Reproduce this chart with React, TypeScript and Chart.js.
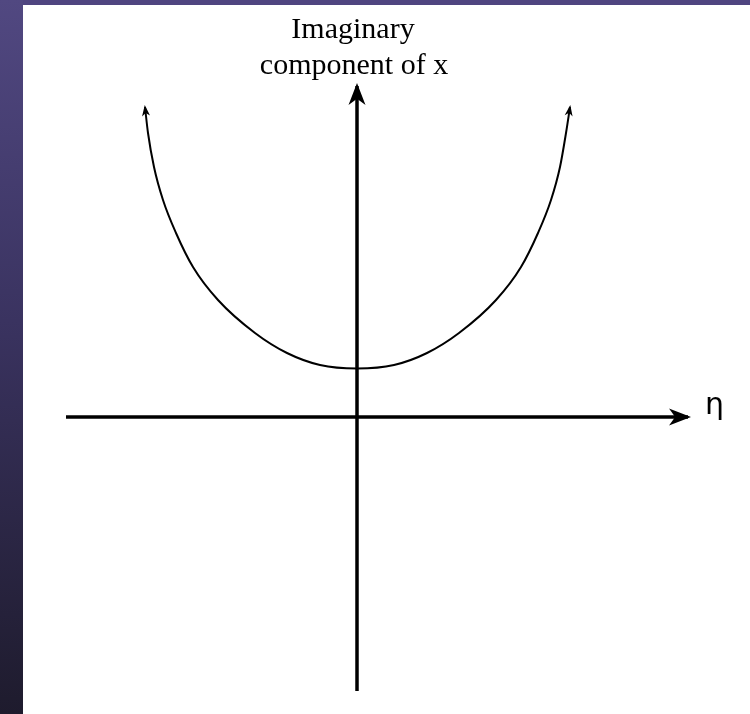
import React, { useEffect, useRef } from "react";
import { Chart, registerables } from "chart.js";

Chart.register(...registerables);

// Curve: imaginary component of x versus eta (units: 1 = 100 px in the reference)
const curveEta = [-2.12, -2.09, -2.03, -1.94, -1.81, -1.64, -1.39, -1.02, -0.7, -0.37, 0, 0.37, 0.7, 1.02, 1.39, 1.64, 1.81, 1.94, 2.03, 2.09, 2.13];
const curveImag = [3.1, 2.84, 2.5, 2.17, 1.84, 1.5, 1.17, 0.84, 0.64, 0.52, 0.485, 0.52, 0.64, 0.84, 1.17, 1.5, 1.84, 2.17, 2.5, 2.84, 3.1];

// Axes
const hAxisEta = [-2.91, 3.31];
const hAxisImag = [0, 0];
const vAxisEta = [0, 0];
const vAxisImag = [-2.74, 3.31];

// Window of the drawing
const etaRange = [-3.57, 3.93];
const imagRange = [-2.97, 4.17];

const titleLines = ["Imaginary", "component of x"];
const etaLabel = "η";

const pts = (xs: number[], ys: number[]) => xs.map((x, i) => ({ x, y: ys[i] }));

const arrowPlugin = {
  id: "arrows",
  afterDatasetsDraw(chart: any) {
    const ctx = chart.ctx;
    chart.data.datasets.forEach((ds: any, i: number) => {
      const a = ds.arrow;
      if (!a) return;
      const els = chart.getDatasetMeta(i).data;
      const n = els.length;
      const draw = (tip: any, from: any) => {
        let dx = tip.x - from.x;
        let dy = tip.y - from.y;
        const d = Math.hypot(dx, dy) || 1;
        dx /= d;
        dy /= d;
        const tx = tip.x + dx * a.extend;
        const ty = tip.y + dy * a.extend;
        const ang = Math.atan2(dy, dx);
        ctx.save();
        ctx.translate(tx, ty);
        ctx.rotate(ang);
        ctx.beginPath();
        ctx.moveTo(0, 0);
        ctx.lineTo(-a.length, -a.width / 2);
        ctx.lineTo(-a.length * 0.72, 0);
        ctx.lineTo(-a.length, a.width / 2);
        ctx.closePath();
        ctx.fillStyle = ds.borderColor;
        ctx.fill();
        ctx.restore();
      };
      const pick = (p: any, cx: any, cy: any, fallback: any) => {
        if (cx !== undefined && cy !== undefined && Math.hypot(p.x - cx, p.y - cy) > 0.5) return { x: cx, y: cy };
        return fallback;
      };
      if (a.end) {
        const p = els[n - 1];
        draw(p, pick(p, p.cp1x, p.cp1y, els[n - 2]));
      }
      if (a.start) {
        const p = els[0];
        draw(p, pick(p, p.cp2x, p.cp2y, els[1]));
      }
    });
  },
};

const labelPlugin = {
  id: "labels",
  afterDraw(chart: any) {
    const ctx = chart.ctx;
    const xs = chart.scales.x;
    const ys = chart.scales.y;
    const cx = xs.getPixelForValue(0);
    const tipY = ys.getPixelForValue(vAxisImag[1]);
    ctx.save();
    ctx.fillStyle = "#000";
    ctx.textAlign = "center";
    ctx.textBaseline = "alphabetic";
    ctx.font = '30px "Liberation Serif", "Times New Roman", serif';
    ctx.fillText(titleLines[0], cx - 4, tipY - 48);
    ctx.fillText(titleLines[1], cx - 3, tipY - 12);
    ctx.textAlign = "left";
    ctx.font = '30px "DejaVu Sans", sans-serif';
    ctx.fillText(etaLabel, xs.getPixelForValue(hAxisEta[1]) + 17, ys.getPixelForValue(0) - 3);
    ctx.restore();
  },
};

export default function App() {
  const ref = useRef<HTMLCanvasElement | null>(null);
  useEffect(() => {
    if (!ref.current) return;
    const chart = new Chart(ref.current, {
      type: "scatter",
      data: {
        datasets: [
          {
            data: pts(hAxisEta, hAxisImag),
            showLine: true,
            borderColor: "#000",
            borderWidth: 3.5,
            pointRadius: 0,
            tension: 0,
            arrow: { end: true, length: 22, width: 17, extend: 3 },
          } as any,
          {
            data: pts(vAxisEta, vAxisImag),
            showLine: true,
            borderColor: "#000",
            borderWidth: 3.5,
            pointRadius: 0,
            tension: 0,
            arrow: { end: true, length: 22, width: 17, extend: 3 },
          } as any,
          {
            data: pts(curveEta, curveImag),
            showLine: true,
            borderColor: "#000",
            borderWidth: 2,
            pointRadius: 0,
            tension: 0.4,
            cubicInterpolationMode: "monotone",
            arrow: { start: true, end: true, length: 11, width: 8, extend: 2 },
          } as any,
        ],
      },
      options: {
        animation: false,
        responsive: false,
        events: [],
        layout: { padding: 0 },
        plugins: { legend: { display: false }, tooltip: { enabled: false }, title: { display: false } },
        scales: {
          x: { type: "linear", display: false, min: etaRange[0], max: etaRange[1] },
          y: { type: "linear", display: false, min: imagRange[0], max: imagRange[1] },
        },
      },
      plugins: [arrowPlugin, labelPlugin],
    });
    return () => chart.destroy();
  }, []);

  return (
    <div style={{ position: "fixed", left: 0, top: 0, width: 750, height: 714, background: "#fff", overflow: "hidden" }}>
      <div style={{ position: "absolute", left: 0, top: 0, width: 750, height: 5, background: "#4f4580" }} />
      <div
        style={{
          position: "absolute",
          left: 0,
          top: 0,
          width: 23,
          height: 714,
          background: "linear-gradient(to bottom, #514881, #3a3360 45%, #1e1b2d)",
        }}
      />
      <canvas ref={ref} width={750} height={714} style={{ position: "absolute", left: 0, top: 0, width: 750, height: 714 }} />
    </div>
  );
}
